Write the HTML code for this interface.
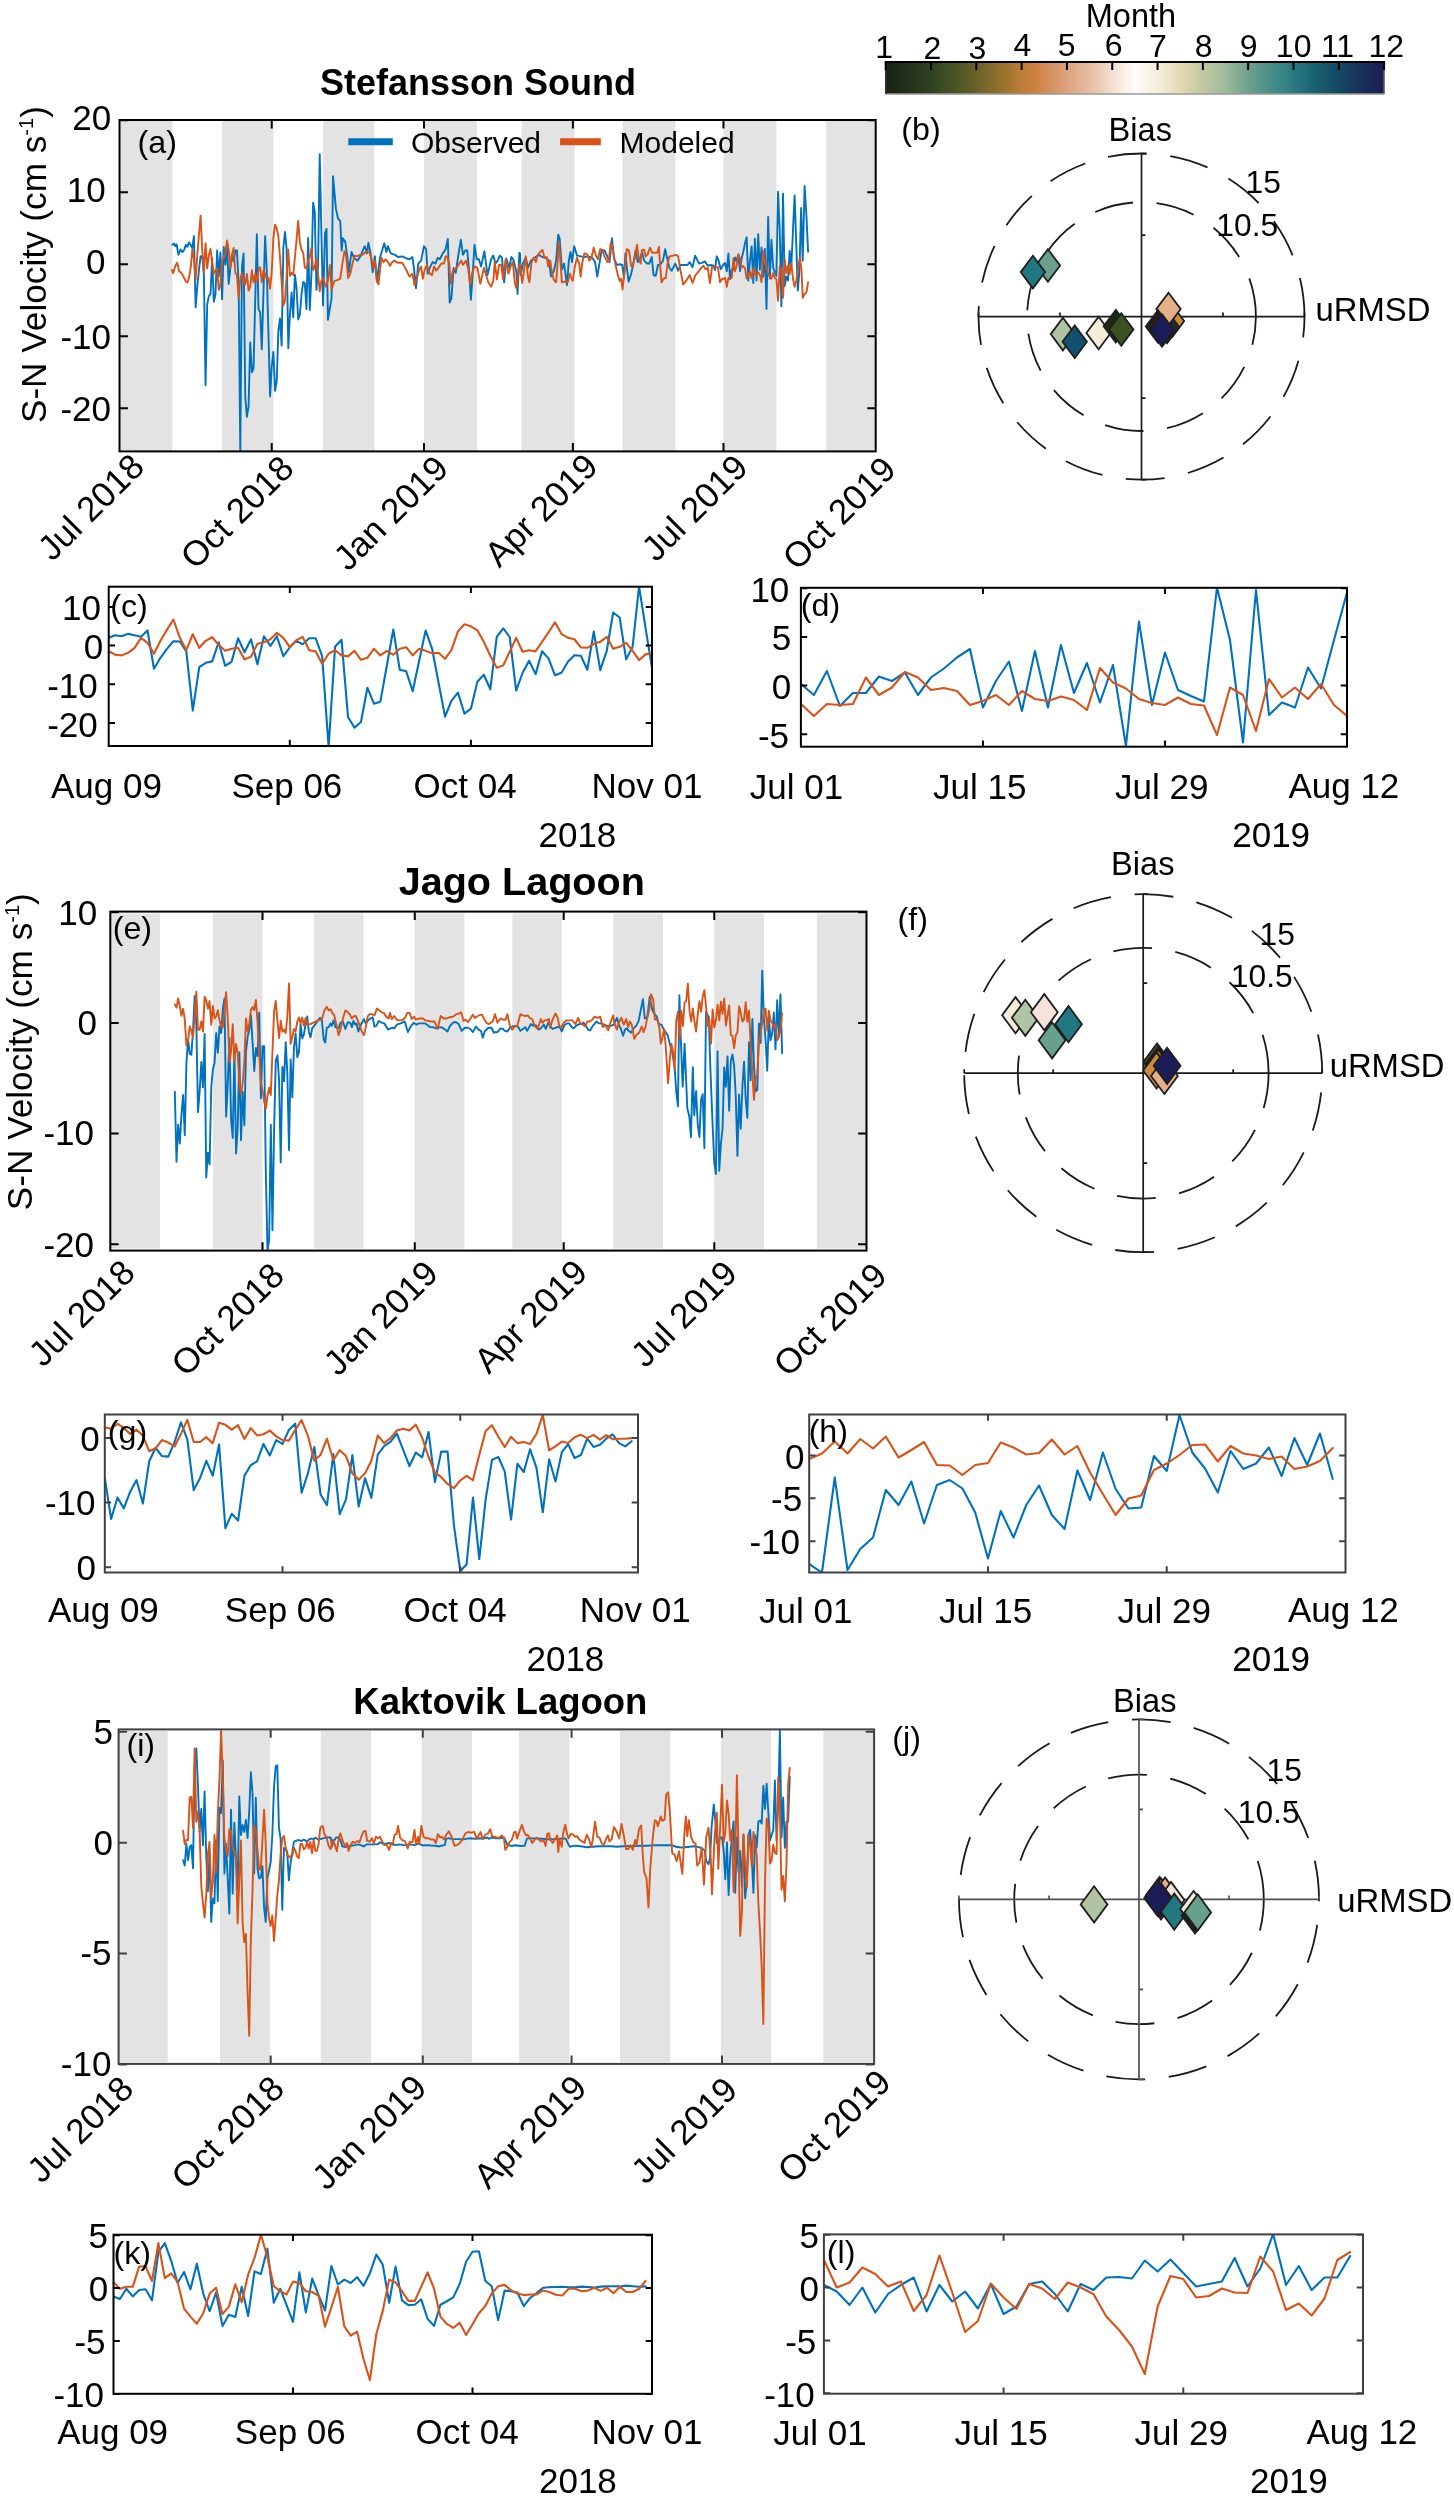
<!DOCTYPE html>
<html><head><meta charset="utf-8"><style>
html,body{margin:0;padding:0;background:#fff;}
svg{display:block;font-family:"Liberation Sans", sans-serif;will-change:transform;}
text{font-family:"Liberation Sans", sans-serif;fill:#000;}
</style></head><body>
<svg width="1454" height="2500" viewBox="0 0 1454 2500">
<defs><clipPath id="clipA"><rect x="119.5" y="120" width="756.2" height="331.4"/></clipPath><clipPath id="clipE"><rect x="110.3" y="911.6" width="756.2" height="339"/></clipPath><clipPath id="clipI"><rect x="118.6" y="1729.4" width="755.5" height="334.5"/></clipPath><clipPath id="clipC"><rect x="108.7" y="586.7" width="543.3" height="159.3"/></clipPath><clipPath id="clipD"><rect x="800.9" y="587.8" width="546.1" height="158.9"/></clipPath><clipPath id="clipG"><rect x="104.8" y="1414.5" width="533.2" height="158"/></clipPath><clipPath id="clipH"><rect x="809.2" y="1414.5" width="536.3" height="158"/></clipPath><clipPath id="clipK"><rect x="113.5" y="2234.7" width="538.5" height="159.1"/></clipPath><clipPath id="clipL"><rect x="823.9" y="2234.4" width="539.1" height="159.3"/></clipPath><linearGradient id="cmap" x1="0" x2="1" y1="0" y2="0"><stop offset="0" stop-color="#1a2216"/><stop offset="0.045" stop-color="#24301a"/><stop offset="0.09" stop-color="#2e4220"/><stop offset="0.14" stop-color="#4a5526"/><stop offset="0.18" stop-color="#686028"/><stop offset="0.24" stop-color="#9c742e"/><stop offset="0.272" stop-color="#bc7c38"/><stop offset="0.3" stop-color="#cd823f"/><stop offset="0.36" stop-color="#dca07c"/><stop offset="0.42" stop-color="#e8c4aa"/><stop offset="0.455" stop-color="#f4e0d4"/><stop offset="0.5" stop-color="#fffcf8"/><stop offset="0.545" stop-color="#f6efdc"/><stop offset="0.59" stop-color="#e2dab4"/><stop offset="0.636" stop-color="#c2c8a2"/><stop offset="0.68" stop-color="#a0bc9c"/><stop offset="0.727" stop-color="#6ea08e"/><stop offset="0.77" stop-color="#4a9088"/><stop offset="0.818" stop-color="#2a7a82"/><stop offset="0.86" stop-color="#1a6272"/><stop offset="0.909" stop-color="#134863"/><stop offset="0.955" stop-color="#19305a"/><stop offset="1.0" stop-color="#1c1c52"/></linearGradient></defs>
<rect width="1454" height="2500" fill="#fff"/>
<rect x="119.5" y="120" width="52.95" height="331.4" fill="#e3e3e3"/>
<rect x="222.09" y="120" width="51.3" height="331.4" fill="#e3e3e3"/>
<rect x="323.03" y="120" width="51.3" height="331.4" fill="#e3e3e3"/>
<rect x="423.97" y="120" width="52.95" height="331.4" fill="#e3e3e3"/>
<rect x="521.59" y="120" width="52.95" height="331.4" fill="#e3e3e3"/>
<rect x="622.53" y="120" width="52.95" height="331.4" fill="#e3e3e3"/>
<rect x="723.47" y="120" width="52.95" height="331.4" fill="#e3e3e3"/>
<rect x="826.06" y="120" width="49.64" height="331.4" fill="#e3e3e3"/>
<g clip-path="url(#clipA)">
<polyline points="172.5,244.8 173.9,243.5 175.2,246.2 176.5,244.2 178.5,254.7 180.5,249.5 182.4,252.1 184.4,249.5 185.69,244.99 187.34,246.85 189,242.4 190.65,244.99 192.31,247.96 193.96,236.09 195.62,307.31 197.27,286.91 198.93,270.22 200.58,256.12 202.24,256.49 203.89,275.04 205.54,385.2 207.2,304.34 208.85,296.18 210.51,293.58 212.16,257.97 213.82,301.74 215.47,294.33 217.13,250.56 218.78,276.52 220.44,252.41 222.09,299.15 223.75,246.85 225.4,264.65 227.06,246.85 228.71,283.94 230.37,267.62 232.02,255.38 233.67,261.68 235.33,250.56 236.98,250.56 238.64,283.94 240.29,453.08 241.95,266.51 243.6,253.52 245.26,397.07 246.91,416.73 248.57,406.34 250.22,342.55 251.88,372.22 253.53,368.51 255.19,301.74 256.84,234.24 258.5,309.16 260.15,312.13 261.8,349.22 263.46,292.47 265.11,236.09 266.77,270.22 268.42,333.27 270.08,396.33 271.73,366.66 273.39,351.82 275.04,390.77 276.7,381.49 278.35,331.42 280.01,318.44 281.66,345.51 283.32,247.96 284.97,232.01 286.63,248.7 288.28,348.11 289.93,314.73 291.59,292.47 293.24,317.32 294.9,274.67 296.55,288.02 298.21,319.55 299.86,314.73 301.52,294.33 303.17,282.08 304.83,283.2 306.48,309.16 308.14,237.94 309.79,309.9 311.45,273.92 313.1,202.71 314.76,211.98 316.41,289.87 318.06,266.51 319.72,154.12 321.37,231.27 323.03,305.45 325.05,233.22 326.5,228.89 327.94,319.87 331.55,298.21 333,176.17 335.89,208.67 338.05,218.78 340.22,220.94 341.66,250.55 342.82,238.27 345.27,241.88 347.44,257.77 348.89,272.21 351.48,251.99 353.94,257.77 357.55,260.66 360.44,256.33 363.33,249.1 364.77,246.22 366.94,253.44 368.38,242.61 370.55,253.44 372.72,272.21 374.88,256.33 377.05,280.88 379.94,257.77 382.1,250.55 384.27,243.33 386.44,251.99 387.88,246.22 390.77,253.44 395.1,254.88 397.99,257.05 402.32,256.33 406.66,258.49 409.54,259.21 412.43,257.05 413.88,267.88 416.04,288.1 418.21,263.55 421.1,260.66 423.99,246.22 426.15,249.1 427.6,273.66 429.76,267.88 432.65,262.1 435.54,263.55 437.71,257.77 439.87,259.21 442.76,253.44 445.65,249.1 447.82,238.99 449.69,302.54 451.43,298.21 453.59,267.88 455.76,272.93 457.93,257.77 460.81,239.72 462.98,254.88 465.15,250.55 467.31,250.55 469.48,276.55 470.92,299.65 472.8,272.21 474.53,244.77 476.7,259.21 478.87,259.21 481.03,266.44 484.36,251.27 487.53,275.1 491.14,259.21 493.31,255.6 495.48,263.55 497.64,260.66 499.81,255.6 501.98,257.77 504.14,282.32 506.31,258.49 509.2,267.88 511.36,257.05 513.53,259.94 516.42,272.21 517.57,293.88 519.31,252.72 520,253.44 520.72,275.1 522.89,263.55 525.78,257.77 527.94,267.88 530.83,260.66 534.44,257.77 538.78,254.88 542.39,257.05 546,257.77 548.89,260.66 551.05,276.55 553.94,270.77 556.11,260.66 558.27,234.66 559.72,238.99 561.88,269.32 564.05,263.55 566.94,285.21 568.82,260.66 570.55,251.99 571.99,262.1 574.16,246.22 577.05,255.6 580.66,256.33 584.27,257.05 587.88,256.33 592.21,257.77 595.1,262.1 597.27,276.55 599.43,263.55 601.6,250.55 604.49,250.55 606.66,254.88 609.54,262.1 612,238.27 613.88,257.77 616.76,264.99 619.65,264.27 622.25,264.99 623.99,277.99 625.43,253.44 626.87,267.88 628.61,281.6 631.21,273.66 633.37,263.55 635.54,250.55 637.71,262.1 639.87,259.21 642.04,251.99 644.21,260.66 647.09,263.55 649.26,263.55 651.72,257.05 653.59,275.1 655.76,275.82 657.93,264.99 660.09,264.99 662.98,260.66 665.15,249.1 667.31,259.21 669.48,267.88 671.65,270.77 675.26,263.55 678.15,270.77 680.31,264.99 684.64,264.99 687.53,264.99 689.7,262.1 692.59,267.16 695.04,255.6 696.92,259.21 699.09,263.55 701.98,262.82 704.86,261.38 707.75,265.71 710.64,264.99 713.53,265.71 714.97,270.05 716.71,256.33 718.58,260.66 720.75,269.32 723.64,264.27 725.12,263.07 726.78,271.2 728.43,253.46 730.09,279.32 731.74,269.72 733.4,269.72 735.05,257.53 736.7,260.85 738.36,254.57 740.01,271.2 741.67,258.26 743.32,251.61 744.98,243.49 746.63,237.2 748.29,280.43 749.94,260.85 751.6,246.44 753.25,283.02 754.91,238.68 756.56,280.43 758.22,234.25 759.87,269.72 761.53,247.55 763.18,276.74 764.83,249.03 766.49,308.88 768.14,216.88 769.8,278.59 771.45,239.79 773.11,267.5 774.76,271.94 776.42,276 778.07,191.76 779.73,230.55 781.38,306.3 783.04,193.61 784.69,285.98 786.35,276.74 788,280.43 789.66,250.87 791.31,266.39 792.96,230.55 794.62,195.45 797.8,290.5 799.5,270 801.1,208 802.7,260.8 804.6,186 806.4,215 808.1,251.7" fill="none" stroke="#0072bd" stroke-width="1.9" stroke-linejoin="round" stroke-linecap="round"/>
<polyline points="171.9,269.9 173.2,273.2 175.2,266 177.2,262.7 179.1,271.3 181.1,272.6 183.1,275.9 185.1,279.8 185.69,281.34 187.34,282.46 189,277.63 190.65,268.36 192.31,249.81 193.96,259.09 195.62,279.49 197.27,255.38 198.93,234.98 200.58,215.69 202.24,249.81 203.89,272.81 205.54,243.14 207.2,268.36 208.85,255.38 210.51,248.7 212.16,262.8 213.82,273.92 215.47,270.22 217.13,268.36 218.78,289.87 220.44,285.05 222.09,260.94 223.75,257.97 225.4,252.41 227.06,240.54 228.71,249.81 230.37,267.25 232.02,254.27 233.67,247.96 235.33,272.81 236.98,275.04 238.64,298.03 240.29,279.49 241.95,272.81 243.6,282.46 245.26,284.31 246.91,273.92 248.57,290.62 250.22,286.91 251.88,270.22 253.53,282.46 255.19,273.92 256.84,281.34 258.5,270.22 260.15,267.25 261.8,282.46 263.46,270.22 265.11,273.92 266.77,278.75 268.42,277.63 270.08,288.76 271.73,272.07 273.39,237.94 275.04,224.59 276.7,228.3 278.35,236.09 280.01,257.23 281.66,283.2 283.32,305.45 284.97,301 286.63,275.78 288.28,249.81 289.93,275.78 291.59,272.81 293.24,275.04 294.9,257.23 296.55,239.8 298.21,220.88 299.86,242.4 301.52,249.81 303.17,252.41 304.83,267.62 306.48,268.36 308.14,260.94 309.79,257.23 311.45,247.96 313.1,270.22 314.76,266.51 316.41,259.09 318.06,273.92 319.72,291.36 321.37,280.6 323.03,278.75 323.61,279.43 325.78,286.66 327.94,280.88 329.82,264.99 331.55,289.54 334.44,280.88 337.33,280.16 340.22,278.71 342.39,263.55 344.55,251.27 346,254.88 348.16,277.99 350.33,273.66 352.5,263.55 354.66,255.6 357.55,256.33 359.72,254.88 362.61,254.88 364.77,252.72 366.94,251.27 369.1,251.99 371.27,257.77 373.44,267.88 374.88,260.66 376.61,280.88 378.49,284.49 381.38,257.77 383.55,262.1 385.71,259.21 387.88,262.1 390.05,265.71 392.21,262.1 394.38,260.66 397.99,262.82 402.32,262.82 405.21,267.88 407.38,272.21 409.54,276.55 412.43,273.66 414.6,285.21 416.76,277.99 418.93,270.77 421.1,266.44 422.83,278.71 424.71,269.32 426.87,264.99 429.76,273.66 431.93,275.1 434.1,266.44 436.26,270.77 438.43,267.88 441.32,263.55 443.92,263.55 445.65,256.33 447.09,256.33 449.26,263.55 450.7,283.77 452.87,270.77 456.48,267.88 459.37,263.55 461.25,260.66 462.98,264.99 465.87,260.66 468.04,267.88 470.2,284.49 472.37,272.21 474.53,266.44 477.42,267.88 480.31,283.77 483.92,267.88 486.09,275.1 488.26,282.32 491.14,286.66 493.31,280.88 494.75,262.1 496.92,279.43 499.09,264.99 501.25,264.99 503.13,279.43 505.59,259.21 508.47,273.66 510.64,266.44 512.81,262.1 514.97,283.77 516.42,288.1 518.58,267.88 520,263.55 522.17,283.04 523.61,273.66 525.78,256.33 527.94,276.55 529.39,282.32 531.55,262.1 533.72,257.77 535.89,262.1 537.33,255.6 540.22,251.99 542.39,249.83 544.55,257.77 546.72,257.05 548.16,266.44 550.33,260.66 551.77,272.21 553.94,280.16 556.11,282.32 557.84,259.21 558.99,241.88 560.44,262.1 561.88,282.32 564.77,281.6 567.66,282.32 569.83,273.66 571.27,277.99 572.72,280.88 574.88,266.44 577.05,257.77 579.21,263.55 580.66,276.55 582.1,263.55 584.27,253.44 587.16,254.16 589.32,260.66 591.49,257.77 593.66,247.66 595.82,255.6 597.99,259.21 600.16,249.1 602.32,249.83 604.49,256.33 607.38,262.1 608.82,260.66 610.7,242.61 612.43,246.22 614.6,260.66 617.49,273.66 619.65,280.88 621.1,278.71 622.54,289.54 624.71,269.32 626.87,249.1 629.04,250.55 631.21,266.44 632.65,265.71 634.82,257.77 636.98,244.77 638.43,256.33 640.6,263.55 642.04,249.83 644.21,249.83 645.65,256.33 647.82,254.16 649.98,247.66 652.15,252.72 655.04,252.72 657.2,252.72 658.94,246.94 660.09,264.99 661.54,282.32 663.7,278.71 665.87,277.99 667.31,264.99 669.48,256.33 673.09,255.6 675.98,254.88 678.15,256.33 680.31,269.32 683.2,284.49 686.09,280.88 689.7,275.1 692.59,283.04 695.48,275.1 699.09,270.77 701.25,267.88 703.42,265.71 705.59,269.32 707.75,267.88 709.92,283.04 712.09,266.44 714.97,267.16 717.86,267.16 720.03,282.32 722.2,278.71 724.36,278.71 725.12,277.85 726.78,286.71 728.43,277.85 730.09,278.59 731.74,277.85 733.4,258.26 735.05,271.2 736.7,265.65 738.36,254.2 740.01,258.26 741.67,267.5 743.32,266.02 744.98,268.24 746.63,278.59 748.29,275.63 749.94,271.2 751.6,278.59 753.25,268.24 754.91,274.15 756.56,275.63 758.22,272.3 759.87,274.89 761.53,282.28 763.18,251.24 764.83,261.96 766.49,266.39 768.14,274.15 769.8,277.11 771.45,278.59 773.11,273.04 774.76,277.85 776.42,278.96 778.07,300.75 779.73,265.65 781.38,271.2 783.04,297.8 784.69,259.37 786.35,273.04 788,265.65 789.66,274.15 791.31,263.07 792.96,278.59 794.62,286.71 796.5,280 799.9,257.5 801.5,270 802.7,297.9 804.8,293.8 806.5,292.1 808.1,282.2" fill="none" stroke="#d95319" stroke-width="1.9" stroke-linejoin="round" stroke-linecap="round"/>
</g>
<path d="M119.5,120.3h8.4M875.7,120.3h-8.4M119.5,192.28h8.4M875.7,192.28h-8.4M119.5,264.25h8.4M875.7,264.25h-8.4M119.5,336.23h8.4M875.7,336.23h-8.4M119.5,408.2h8.4M875.7,408.2h-8.4M271.73,451.4v-8.4M271.73,120v8.4M423.97,451.4v-8.4M423.97,120v8.4M572.89,451.4v-8.4M572.89,120v8.4M723.47,451.4v-8.4M723.47,120v8.4" stroke="#000" stroke-width="2" fill="none"/>
<rect x="119.5" y="120" width="756.2" height="331.4" fill="none" stroke="#000" stroke-width="2"/>
<line x1="348.3" y1="141.7" x2="392.8" y2="141.7" stroke="#0072bd" stroke-width="7"/>
<line x1="560.1" y1="141.7" x2="600.8" y2="141.7" stroke="#d95319" stroke-width="7"/>
<text transform="translate(45.5,264.6) rotate(-90)" font-size="35.2" text-anchor="middle">S-N Velocity (cm s<tspan font-size="20" dy="-12.5">-1</tspan><tspan dy="12.5">)</tspan></text>
<g clip-path="url(#clipC)">
<polyline points="108.7,637.84 115.17,635.25 121.64,636.24 128.1,633.85 134.57,635.25 141.04,636.84 147.51,630.46 153.97,668.75 160.44,657.78 166.91,648.81 173.38,641.23 179.85,641.43 186.31,651.4 192.78,710.63 199.25,667.16 205.72,662.77 212.19,661.37 218.65,642.23 225.12,665.76 231.59,661.77 238.06,638.24 244.52,652.2 250.99,639.23 257.46,664.36 263.93,636.24 270.4,645.82 276.86,636.24 283.33,656.19 289.8,647.41 296.27,640.83 302.74,644.22 309.2,638.24 315.67,638.24 322.14,656.19 328.61,747.13 335.07,646.81 341.54,639.83 348.01,717.02 354.48,727.59 360.95,722 367.41,687.7 373.88,703.65 380.35,701.66 386.82,665.76 393.29,629.46 399.75,669.75 406.22,671.34 412.69,691.29 419.16,660.77 425.62,630.46 432.09,648.81 438.56,682.71 445.03,716.62 451.5,700.66 457.96,692.68 464.43,713.63 470.9,708.64 477.37,681.72 483.84,674.73 490.3,689.29 496.77,636.84 503.24,628.26 509.71,637.24 516.17,690.69 522.64,672.74 529.11,660.77 535.58,674.14 542.05,651.2 548.51,658.38 554.98,675.33 561.45,672.74 567.92,661.77 574.39,655.19 580.85,655.79 587.32,669.75 593.79,631.46 600.26,670.15 606.73,650.8 613.19,612.51 619.66,617.5 626.13,659.38 632.6,646.81 639.06,586.38 645.53,627.87 652,667.75" fill="none" stroke="#0072bd" stroke-width="2.1" stroke-linejoin="round" stroke-linecap="round"/>
<polyline points="108.7,651.2 115.17,654.79 121.64,655.39 128.1,652.8 134.57,647.81 141.04,637.84 147.51,642.82 153.97,653.79 160.44,640.83 166.91,629.86 173.38,619.49 179.85,637.84 186.31,650.2 192.78,634.25 199.25,647.81 205.72,640.83 212.19,637.24 218.65,644.82 225.12,650.8 231.59,648.81 238.06,647.81 244.52,659.38 250.99,656.79 257.46,643.82 263.93,642.23 270.4,639.23 276.86,632.85 283.33,637.84 289.8,647.21 296.27,640.23 302.74,636.84 309.2,650.2 315.67,651.4 322.14,663.77 328.61,653.79 335.07,650.2 341.54,655.39 348.01,656.39 354.48,650.8 360.95,659.78 367.41,657.78 373.88,648.81 380.35,655.39 386.82,650.8 393.29,654.79 399.75,648.81 406.22,647.21 412.69,655.39 419.16,648.81 425.62,650.8 432.09,653.39 438.56,652.8 445.03,658.78 451.5,649.8 457.96,631.46 464.43,624.28 470.9,626.27 477.37,630.46 483.84,641.83 490.3,655.79 496.77,667.75 503.24,665.36 509.71,651.8 516.17,637.84 522.64,651.8 529.11,650.2 535.58,651.4 542.05,641.83 548.51,632.45 554.98,622.28 561.45,633.85 567.92,637.84 574.39,639.23 580.85,647.41 587.32,647.81 593.79,643.82 600.26,641.83 606.73,636.84 613.19,648.81 619.66,646.81 626.13,642.82 632.6,650.8 639.06,660.18 645.53,654.39 652,653.39" fill="none" stroke="#d95319" stroke-width="2.1" stroke-linejoin="round" stroke-linecap="round"/>
</g>
<path d="M108.7,606.9h6.3M652,606.9h-6.3M108.7,645.6h6.3M652,645.6h-6.3M108.7,684.3h6.3M652,684.3h-6.3M108.7,723h6.3M652,723h-6.3M289.8,746v-6.3M289.8,586.7v6.3M470.9,746v-6.3M470.9,586.7v6.3" stroke="#000" stroke-width="2" fill="none"/>
<rect x="108.7" y="586.7" width="543.3" height="159.3" fill="none" stroke="#000" stroke-width="2"/>
<g clip-path="url(#clipD)">
<polyline points="800.9,684 813.9,695 826.9,671 839.91,706 852.91,693 865.91,693 878.91,676.5 891.92,681 904.92,672.5 917.92,695 930.92,677.5 943.93,668.5 956.93,657.5 969.93,649 982.93,707.5 995.94,681 1008.94,661.5 1021.94,711 1034.94,651 1047.95,707.5 1060.95,645 1073.95,693 1086.95,663 1099.95,702.5 1112.96,665 1125.96,746 1138.96,621.5 1151.96,705 1164.97,652.5 1177.97,690 1190.97,696 1203.97,701.5 1216.98,587.5 1229.98,640 1242.98,742.5 1255.98,590 1268.99,715 1281.99,702.5 1294.99,707.5 1307.99,667.5 1321,688.5 1334,640 1347,592.5" fill="none" stroke="#0072bd" stroke-width="2.1" stroke-linejoin="round" stroke-linecap="round"/>
<polyline points="800.9,704 813.9,716 826.9,704 839.91,705 852.91,704 865.91,677.5 878.91,695 891.92,687.5 904.92,672 917.92,677.5 930.92,690 943.93,688 956.93,691 969.93,705 982.93,701 995.94,695 1008.94,705 1021.94,691 1034.94,699 1047.95,701 1060.95,696.5 1073.95,700 1086.95,710 1099.95,668 1112.96,682.5 1125.96,688.5 1138.96,699 1151.96,703 1164.97,705 1177.97,697.5 1190.97,704 1203.97,705.5 1216.98,735 1229.98,687.5 1242.98,695 1255.98,731 1268.99,679 1281.99,697.5 1294.99,687.5 1307.99,699 1321,684 1334,705 1347,716" fill="none" stroke="#d95319" stroke-width="2.1" stroke-linejoin="round" stroke-linecap="round"/>
</g>
<path d="M800.9,588.2h6.3M1347,588.2h-6.3M800.9,636.9h6.3M1347,636.9h-6.3M800.9,685.6h6.3M1347,685.6h-6.3M800.9,734.3h6.3M1347,734.3h-6.3M982.93,746.7v-6.3M982.93,587.8v6.3M1164.97,746.7v-6.3M1164.97,587.8v6.3" stroke="#000" stroke-width="2" fill="none"/>
<rect x="800.9" y="587.8" width="546.1" height="158.9" fill="none" stroke="#000" stroke-width="2"/>
<rect x="885.7" y="62" width="498.4" height="32" fill="url(#cmap)"/>
<line x1="884.7" y1="62" x2="1385.1" y2="62" stroke="#000" stroke-width="2"/>
<line x1="885.7" y1="94" x2="1384.1" y2="94" stroke="#999" stroke-width="1.5"/>
<line x1="885.7" y1="62" x2="885.7" y2="94" stroke="#333" stroke-width="1.5"/>
<line x1="1384.1" y1="62" x2="1384.1" y2="94" stroke="#666" stroke-width="1.5"/>
<path d="M885.7,62v8M931.01,62v8M976.32,62v8M1021.63,62v8M1066.94,62v8M1112.25,62v8M1157.55,62v8M1202.86,62v8M1248.17,62v8M1293.48,62v8M1338.79,62v8M1384.1,62v8" stroke="#000" stroke-width="2"/>
<path d="M1304.5,316.6 A163,163 0 1 0 978.5,316.6 A163,163 0 1 0 1304.5,316.6" fill="none" stroke="#1a1a1a" stroke-width="1.8" stroke-dasharray="39 23.7"/>
<path d="M1255.9,316.6 A114.4,114.4 0 1 0 1027.1,316.6 A114.4,114.4 0 1 0 1255.9,316.6" fill="none" stroke="#1a1a1a" stroke-width="1.8" stroke-dasharray="39 23.7"/>
<path d="M978.5,316.6H1304.5M1141.5,153.6V479.6M1060,316.6v-4M1141.5,235.1h4M978.5,316.6v-4M1141.5,153.6h5M1223,316.6v-4M1141.5,398.1h4M1304.5,316.6v-4M1141.5,479.6h5" stroke="#1a1a1a" stroke-width="1.7" fill="none"/>
<polygon points="1047.9,249.2 1060.1,265.5 1047.9,281.8 1035.7,265.5" fill="#68a08e" stroke="#1e1e1e" stroke-width="1.8"/>
<polygon points="1032.9,255.8 1045.1,272.1 1032.9,288.4 1020.7,272.1" fill="#217880" stroke="#1e1e1e" stroke-width="1.8"/>
<polygon points="1062.9,317.8 1075.1,334.1 1062.9,350.4 1050.7,334.1" fill="#b0c4a4" stroke="#1e1e1e" stroke-width="1.8"/>
<polygon points="1074.7,325.4 1086.9,341.7 1074.7,358 1062.5,341.7" fill="#125070" stroke="#1e1e1e" stroke-width="1.8"/>
<polygon points="1098.6,316.7 1110.8,333 1098.6,349.3 1086.4,333" fill="#f2ecd8" stroke="#1e1e1e" stroke-width="1.8"/>
<polygon points="1115.8,309.9 1128,326.2 1115.8,342.5 1103.6,326.2" fill="#1c2814" stroke="#1e1e1e" stroke-width="1.8"/>
<polygon points="1121.3,313.2 1133.5,329.5 1121.3,345.8 1109.1,329.5" fill="#3c5020" stroke="#1e1e1e" stroke-width="1.8"/>
<polygon points="1172,304.7 1184.2,321 1172,337.3 1159.8,321" fill="#cc8a3c" stroke="#1e1e1e" stroke-width="1.8"/>
<polygon points="1167,310.7 1179.2,327 1167,343.3 1154.8,327" fill="#2a2a2a" stroke="#1e1e1e" stroke-width="1.8"/>
<polygon points="1168.5,292.7 1180.7,309 1168.5,325.3 1156.3,309" fill="#e4b08a" stroke="#1e1e1e" stroke-width="1.8"/>
<polygon points="1158,310.2 1170.2,326.5 1158,342.8 1145.8,326.5" fill="#231f20" stroke="#1e1e1e" stroke-width="1.8"/>
<polygon points="1162,314.2 1174.2,330.5 1162,346.8 1149.8,330.5" fill="#1c1c56" stroke="#1e1e1e" stroke-width="1.8"/>
<path d="M1322.2,1073.2 A179,179 0 1 0 964.2,1073.2 A179,179 0 1 0 1322.2,1073.2" fill="none" stroke="#1a1a1a" stroke-width="1.8" stroke-dasharray="39 23.7"/>
<path d="M1268.6,1073.2 A125.4,125.4 0 1 0 1017.8,1073.2 A125.4,125.4 0 1 0 1268.6,1073.2" fill="none" stroke="#1a1a1a" stroke-width="1.8" stroke-dasharray="39 23.7"/>
<path d="M964.2,1073.2H1322.2M1143.2,894.2V1252.2M1053.2,1073.2v-4M1143.2,983.2h4M964.2,1073.2v-4M1143.2,894.2h5M1233.2,1073.2v-4M1143.2,1163.2h4M1322.2,1073.2v-4M1143.2,1252.2h5" stroke="#1a1a1a" stroke-width="1.7" fill="none"/>
<polygon points="1015.5,997.1 1028.9,1015.2 1015.5,1033.3 1002.1,1015.2" fill="#f2ecd8" stroke="#1e1e1e" stroke-width="1.8"/>
<polygon points="1025.3,999.7 1038.7,1017.8 1025.3,1035.9 1011.9,1017.8" fill="#b0c4a4" stroke="#1e1e1e" stroke-width="1.8"/>
<polygon points="1044.3,994.1 1057.7,1012.2 1044.3,1030.3 1030.9,1012.2" fill="#f6e4da" stroke="#1e1e1e" stroke-width="1.8"/>
<polygon points="1068.5,1006.1 1081.9,1024.2 1068.5,1042.3 1055.1,1024.2" fill="#217880" stroke="#1e1e1e" stroke-width="1.8"/>
<polygon points="1052.1,1022.2 1065.5,1040.3 1052.1,1058.4 1038.7,1040.3" fill="#68a08e" stroke="#1e1e1e" stroke-width="1.8"/>
<polygon points="1157,1043.4 1170.4,1061.5 1157,1079.6 1143.6,1061.5" fill="#3c5020" stroke="#1e1e1e" stroke-width="1.8"/>
<polygon points="1158.3,1046.9 1171.7,1065 1158.3,1083.1 1144.9,1065" fill="#231f20" stroke="#1e1e1e" stroke-width="1.8"/>
<polygon points="1158.3,1049.4 1171.7,1067.5 1158.3,1085.6 1144.9,1067.5" fill="#8a7a34" stroke="#1e1e1e" stroke-width="1.8"/>
<polygon points="1156.5,1052.4 1169.9,1070.5 1156.5,1088.6 1143.1,1070.5" fill="#cc8a3c" stroke="#1e1e1e" stroke-width="1.8"/>
<polygon points="1164.4,1057.9 1177.8,1076 1164.4,1094.1 1151,1076" fill="#e4b08a" stroke="#1e1e1e" stroke-width="1.8"/>
<polygon points="1167.1,1047.7 1180.5,1065.8 1167.1,1083.9 1153.7,1065.8" fill="#1c1c56" stroke="#1e1e1e" stroke-width="1.8"/>
<path d="M1319,1899.4 A180,180 0 1 0 959,1899.4 A180,180 0 1 0 1319,1899.4" fill="none" stroke="#1a1a1a" stroke-width="1.8" stroke-dasharray="39 23.7"/>
<path d="M1263.8,1899.4 A124.8,124.8 0 1 0 1014.2,1899.4 A124.8,124.8 0 1 0 1263.8,1899.4" fill="none" stroke="#1a1a1a" stroke-width="1.8" stroke-dasharray="39 23.7"/>
<path d="M959,1899.4H1319M1139,1719.4V2079.4M1049,1899.4v-4M1139,1809.4h4M959,1899.4v-4M1139,1719.4h5M1229,1899.4v-4M1139,1989.4h4M1319,1899.4v-4M1139,2079.4h5" stroke="#505050" stroke-width="1.7" fill="none"/>
<polygon points="1094.1,1886.3 1107.5,1904.4 1094.1,1922.5 1080.7,1904.4" fill="#b0c4a4" stroke="#1e1e1e" stroke-width="1.8"/>
<polygon points="1159.5,1876.9 1172.9,1895 1159.5,1913.1 1146.1,1895" fill="#231f20" stroke="#1e1e1e" stroke-width="1.8"/>
<polygon points="1161,1878.4 1174.4,1896.5 1161,1914.6 1147.6,1896.5" fill="#cc8a3c" stroke="#1e1e1e" stroke-width="1.8"/>
<polygon points="1165,1877.4 1178.4,1895.5 1165,1913.6 1151.6,1895.5" fill="#e4b08a" stroke="#1e1e1e" stroke-width="1.8"/>
<polygon points="1171,1881.9 1184.4,1900 1171,1918.1 1157.6,1900" fill="#f6e4da" stroke="#1e1e1e" stroke-width="1.8"/>
<polygon points="1161,1883.4 1174.4,1901.5 1161,1919.6 1147.6,1901.5" fill="#231f20" stroke="#1e1e1e" stroke-width="1.8"/>
<polygon points="1157.6,1879.9 1171,1898 1157.6,1916.1 1144.2,1898" fill="#1c1c56" stroke="#1e1e1e" stroke-width="1.8"/>
<polygon points="1174.3,1893.6 1187.7,1911.7 1174.3,1929.8 1160.9,1911.7" fill="#217880" stroke="#1e1e1e" stroke-width="1.8"/>
<polygon points="1195,1897.4 1208.4,1915.5 1195,1933.6 1181.6,1915.5" fill="#231f20" stroke="#1e1e1e" stroke-width="1.8"/>
<polygon points="1193.6,1890.9 1207,1909 1193.6,1927.1 1180.2,1909" fill="#f2ecd8" stroke="#1e1e1e" stroke-width="1.8"/>
<polygon points="1197.7,1894.3 1211.1,1912.4 1197.7,1930.5 1184.3,1912.4" fill="#68a08e" stroke="#1e1e1e" stroke-width="1.8"/>
<rect x="110.3" y="913.6" width="49.64" height="335" fill="#e3e3e3"/>
<rect x="212.89" y="913.6" width="49.64" height="335" fill="#e3e3e3"/>
<rect x="313.83" y="913.6" width="49.64" height="335" fill="#e3e3e3"/>
<rect x="414.77" y="913.6" width="49.64" height="335" fill="#e3e3e3"/>
<rect x="512.39" y="913.6" width="49.64" height="335" fill="#e3e3e3"/>
<rect x="613.33" y="913.6" width="49.64" height="335" fill="#e3e3e3"/>
<rect x="714.27" y="913.6" width="49.64" height="335" fill="#e3e3e3"/>
<rect x="816.86" y="913.6" width="49.64" height="335" fill="#e3e3e3"/>
<g clip-path="url(#clipE)">
<polyline points="174.83,1091.7 176.49,1161.61 178.14,1124.68 179.8,1143.48 181.45,1114.79 183.11,1095 184.76,1135.23 186.42,1062.68 188.07,1039.6 189.73,1053.78 191.38,1054.77 193.04,1029.7 194.69,996.07 196.34,1025.09 198,1112.15 199.65,1091.7 201.31,1062.02 202.96,1087.41 204.62,1033.99 206.27,1177.44 207.93,1152.71 209.58,1164.25 211.24,1087.41 212.89,1069.28 214.55,1062.68 216.2,1033 217.86,1052.79 219.51,1026.41 221.17,1033 222.82,1009.26 224.47,998.37 226.13,1116.44 227.78,1083.46 229.44,1038.28 231.09,1119.73 232.75,1137.87 234.4,1050.48 236.06,1153.37 237.71,1127.98 239.37,1052.13 241.02,1140.18 242.68,1091.7 244.33,1125.34 245.99,1051.47 247.64,1036.63 249.3,1029.7 250.95,1015.19 252.6,1042.89 254.26,1070.93 255.91,1047.84 257.57,1056.09 259.22,1012.56 260.88,1098.3 262.53,1046.19 264.19,1046.19 265.84,1172.5 267.5,1250.66 269.15,1239.44 270.81,1124.68 272.46,1230.21 274.12,1127.98 275.77,1060.37 277.43,1055.43 279.08,1080.16 280.73,1162.6 282.39,1066.97 284.04,1081.15 285.7,1042.24 287.35,1073.56 289.01,1150.07 290.66,1059.38 292.32,1097.31 293.97,1047.18 295.63,1033.33 297.28,1057.08 298.94,1052.13 300.59,1024.1 302.25,1038.28 303.9,1034.65 305.56,1024.1 307.21,1016.51 308.86,1031.68 310.52,1037.29 312.17,1028.38 320,1017.85 321.86,1020.33 323.71,1039.52 325.2,1042.61 326.81,1027.76 328.67,1027.14 330.52,1023.42 331.76,1025.9 333.62,1020.33 335.47,1027.14 338.57,1028.38 340.43,1022.81 342.9,1021.57 345.38,1028.99 347.85,1022.19 350.33,1022.81 351.94,1027.14 353.42,1020.95 355.28,1024.66 356.52,1023.42 358.38,1031.47 360.85,1024.66 363.95,1019.09 365.8,1023.42 367.66,1020.95 369.52,1019.09 372.61,1017.23 374.47,1026.52 376.33,1025.9 378.8,1020.95 381.9,1022.81 384.37,1023.42 388.09,1029.61 390.56,1028.38 392.42,1027.76 394.28,1028.38 396.75,1024.66 400.47,1023.42 404.8,1021.57 407.89,1032.09 410.37,1027.14 413.46,1022.81 416.56,1024.66 419.03,1023.42 425.22,1023.42 427.7,1025.28 430.18,1027.14 432.65,1027.14 435.75,1028.38 439.46,1027.14 442.56,1027.76 445.03,1029.61 447.51,1031.47 449.98,1025.9 453.7,1022.19 456.17,1022.19 458.65,1024.04 461.74,1030.85 464.84,1027.76 467.93,1027.76 470.41,1028.99 472.88,1032.09 475.98,1026.52 478.46,1029.61 480.93,1030.85 482.79,1037.66 484.64,1031.47 488.36,1027.76 491.45,1027.76 493.93,1032.71 495,1032.09 497.48,1032.09 500.57,1028.38 503.05,1028.99 504.9,1030.85 507.38,1031.47 509.86,1027.76 512.33,1026.52 514.81,1025.9 517.9,1026.52 520.38,1030.85 522.85,1028.99 525.33,1027.14 527.19,1030.85 530.9,1024.04 533.38,1025.9 535.85,1025.28 538.95,1029.61 541.42,1027.76 543.9,1024.66 545.76,1028.99 548.23,1022.81 550.09,1025.9 552.56,1028.99 555.66,1027.76 559.37,1026.52 561.85,1031.47 564.32,1025.28 566.8,1023.42 569.28,1023.42 571.75,1027.14 573.61,1028.38 576.7,1025.28 579.18,1024.04 581.66,1024.04 583.51,1022.43 585.99,1025.9 588.46,1030.23 590.32,1030.23 592.8,1025.9 596.51,1021.57 598.99,1023.42 601.46,1023.42 603.94,1024.66 607.03,1025.9 610.75,1025.9 613.84,1024.66 616.94,1017.85 618.79,1024.66 620.65,1028.38 623.13,1035.8 624.98,1029.61 626.84,1028.38 628.7,1030.85 631.17,1032.71 633.65,1028.38 636.12,1025.9 638.6,1020.95 641.08,1008.57 642.93,999.28 644.79,1018.47 647.27,1017.23 649.74,996.81 652.1,1009.52 654.31,1013.92 656.51,1016.12 658.71,1023.82 661.46,1024.92 664.21,1030.43 667.51,1034.83 669.71,1043.63 672.46,1053.54 674.66,1067.84 676.31,1092.05 677.96,1106.35 679.39,995.21 680.72,1037.03 682.7,1086.55 684.57,1043.63 687.32,1108.56 689.3,1116.26 690.95,1137.17 692.82,1067.29 694.25,1115.16 696.12,1090.95 697.77,1125.06 699.42,1137.17 701.07,1099.75 702.72,1094.25 704.37,1148.17 706.02,1011.72 708.78,1017.22 710.43,1070.04 712.63,1125.06 714.27,1162.96 715.92,1173.94 717.58,1051.3 719.23,1170.71 720.89,1143.6 722.54,1128.75 724.2,1067.44 725.85,1086.8 727.5,1056.46 729.16,1110.68 730.81,1060.98 732.47,1054.53 734.12,1065.5 735.78,1096.48 737.43,1155.86 739.09,1094.54 740.74,1128.75 742.4,1086.8 744.05,1061.63 745.71,1099.71 747.36,1117.78 749.02,1042.26 750.67,1080.34 752.33,1019.03 753.98,1066.15 755.63,1091.32 757.29,1090.03 758.94,1023.55 760.6,1042.91 762.25,970.62 763.91,1019.03 765.56,1039.68 767.22,1070.66 768.87,1017.09 770.53,1040.33 772.18,1033.23 773.84,1012.57 775.49,1049.36 777.15,1000.31 778.8,1035.16 780.46,994.5 782.11,1053.24" fill="none" stroke="#0072bd" stroke-width="1.9" stroke-linejoin="round" stroke-linecap="round"/>
<polyline points="174.83,1004.31 176.49,1007.61 178.14,998.37 179.8,1005.96 181.45,1015.85 183.11,1008.6 184.76,1019.15 186.42,1045.53 188.07,1040.59 189.73,1026.41 191.38,1030.69 193.04,1037.29 194.69,1015.85 196.34,991.78 198,1029.7 199.65,1029.7 201.31,1021.46 202.96,1031.68 204.62,996.73 206.27,1000.35 207.93,1008.6 209.58,1001.01 211.24,1024.76 212.89,1005.96 214.55,1018.49 216.2,1016.51 217.86,1010.25 219.51,1020.14 221.17,1026.41 222.82,1027.4 224.47,1009.26 226.13,992.11 227.78,1019.15 229.44,1062.02 231.09,1051.47 232.75,1024.1 234.4,1061.03 236.06,1043.88 237.71,1053.78 239.37,1083.46 241.02,1094.34 242.68,1083.46 244.33,1062.02 245.99,1018.49 247.64,1031.68 249.3,1023.11 250.95,1009.92 252.6,1006.95 254.26,1009.92 255.91,1000.02 257.57,1022.45 259.22,1055.43 260.88,1081.81 262.53,1090.05 264.19,1101.6 265.84,1108.85 267.5,1095.66 269.15,1087.74 270.81,1095 272.46,1051.47 274.12,1010.91 275.77,1001.01 277.43,1020.8 279.08,1038.28 280.73,1020.8 282.39,1031.68 284.04,1029.7 285.7,1033 287.35,1015.85 289.01,983.53 290.66,1043.88 292.32,1037.29 293.97,1029.04 295.63,1031.35 297.28,1021.79 298.94,1017.5 300.59,1023.11 302.25,1017.5 303.9,1025.75 305.56,1018.16 307.21,1024.76 308.86,1024.1 310.52,1024.1 312.17,1023.11 320,1019.71 321.86,1019.71 324.33,1010.43 326.81,1006.71 328.67,1010.43 330.52,1009.19 332.38,1012.9 334.24,1015.38 336.71,1025.9 338.57,1035.18 340.43,1029.61 342.9,1018.47 345.38,1010.43 347.23,1011.66 349.71,1014.14 351.94,1018.47 354.04,1016 355.9,1016 358.38,1022.19 361.47,1030.85 363.95,1035.18 365.8,1027.14 367.66,1016.62 369.52,1014.14 371.99,1014.14 374.47,1015.38 376.94,1008.57 379.42,1010.43 381.9,1012.28 383.75,1012.9 386.23,1016.62 388.71,1018.47 389.94,1012.9 391.8,1019.09 394.28,1016 396.13,1019.09 397.99,1020.33 400.47,1020.33 402.94,1019.71 405.42,1017.23 407.27,1012.9 409.75,1012.9 411.61,1019.09 414.08,1016.62 415.94,1019.71 419.03,1018.47 422.75,1018.47 425.22,1020.33 428.32,1020.95 431.41,1021.57 434.51,1021.57 437.6,1028.99 440.7,1016 443.79,1018.47 446.89,1018.47 449.98,1017.23 453.08,1016.62 456.17,1014.14 459.27,1013.52 461.12,1012.28 463.6,1020.95 465.46,1019.71 467.93,1022.19 470.41,1018.47 472.88,1014.76 474.74,1017.85 477.84,1016 480.31,1014.76 482.17,1014.76 484.03,1019.09 486.5,1022.81 488.98,1024.04 492.69,1021.57 495,1014.14 497.48,1022.81 500.57,1018.47 503.05,1019.71 505.52,1019.71 507.38,1014.14 509.86,1025.9 512.33,1029.61 514.81,1026.52 517.28,1025.9 520.38,1014.14 522.85,1015.38 525.33,1016 527.81,1015.38 530.28,1018.47 532.14,1019.09 534.61,1025.9 537.71,1028.99 540.8,1019.09 542.66,1022.81 544.52,1020.33 546.99,1020.33 548.85,1019.09 550.09,1027.76 552.56,1019.71 555.41,1013.52 557.52,1017.23 559.37,1025.9 561.23,1027.76 563.71,1022.81 566.8,1020.33 569.28,1020.33 572.37,1020.33 575.47,1024.04 578.19,1017.85 580.42,1023.42 582.89,1024.66 585.37,1026.52 587.23,1021.57 589.7,1021.57 592.18,1019.71 594.65,1016.62 597.75,1017.85 600.22,1016.62 602.7,1027.14 604.56,1024.66 606.41,1027.14 608.27,1030.23 610.13,1023.42 613.22,1015.38 614.46,1023.42 616.94,1029.61 618.79,1022.81 621.27,1017.85 623.74,1024.66 626.22,1019.09 628.08,1027.14 629.93,1021.57 631.79,1024.66 634.27,1038.9 636.74,1034.57 639.22,1032.71 641.69,1026.52 643.55,1032.09 645.41,1027.14 647.27,1017.85 649.12,1010.43 651,994.11 653.2,999.61 654.86,1019.42 657.61,1019.97 659.26,1027.13 660.91,1043.63 662.56,1037.03 664.21,1029.33 665.86,1048.03 668.06,1083.25 669.71,1061.24 671.36,1043.63 673.01,1051.33 674.66,1068.94 676.31,1020.52 677.96,1011.72 679.61,1039.23 681.27,1010.62 682.92,1026.02 684.57,1002.92 686.22,1000.72 687.87,983.66 689.52,1010.62 691.17,1021.62 692.82,1008.42 694.47,1021.62 696.12,1031.53 697.77,1013.92 699.42,1001.27 701.07,1011.72 702.72,996.31 704.37,990.26 706.02,1006.22 707.68,1026.02 709.33,1019.42 710.98,1043.63 712.63,1009.52 714.27,1027.42 715.92,1020.32 717.58,1004.83 719.23,1020.32 720.89,1001.6 722.54,1013.86 724.2,998.37 725.85,1025.48 727.5,1015.8 729.16,1005.47 730.81,1035.16 732.47,1035.81 734.12,1048.07 735.78,1035.16 737.43,1032.58 739.09,1006.12 740.74,1012.57 742.4,1021.61 744.05,1019.67 745.71,1002.25 747.36,1021.61 749.02,1010.64 750.67,1044.85 752.33,1072.6 753.98,1099.71 755.63,1078.41 757.29,1074.54 758.94,1041.62 760.6,1033.23 762.25,1022.25 763.91,1009.35 765.56,1008.7 767.22,1030.65 768.87,1010.64 770.53,1020.32 772.18,1022.9 773.84,1027.42 775.49,1024.19 777.15,1040.33 778.8,1037.1 780.46,1030 782.11,1013.22" fill="none" stroke="#d95319" stroke-width="1.9" stroke-linejoin="round" stroke-linecap="round"/>
</g>
<path d="M110.3,912.27h8.4M866.5,912.27h-8.4M110.3,1022.9h8.4M866.5,1022.9h-8.4M110.3,1133.53h8.4M866.5,1133.53h-8.4M110.3,1244.16h8.4M866.5,1244.16h-8.4M262.53,1250.6v-8.4M262.53,911.6v8.4M414.77,1250.6v-8.4M414.77,911.6v8.4M563.69,1250.6v-8.4M563.69,911.6v8.4M714.27,1250.6v-8.4M714.27,911.6v8.4" stroke="#000" stroke-width="2" fill="none"/>
<rect x="110.3" y="911.6" width="756.2" height="339" fill="none" stroke="#000" stroke-width="2"/>
<text transform="translate(31.7,1051.7) rotate(-90)" font-size="35.2" text-anchor="middle">S-N Velocity (cm s<tspan font-size="20" dy="-12.5">-1</tspan><tspan dy="12.5">)</tspan></text>
<g clip-path="url(#clipG)">
<polyline points="104.8,1478.18 111.15,1519 117.5,1497.43 123.84,1508.41 130.19,1491.66 136.54,1480.1 142.89,1503.59 149.23,1461.23 155.58,1447.75 161.93,1456.03 168.28,1456.61 174.62,1441.97 180.97,1422.33 187.32,1439.28 193.67,1490.11 200.01,1478.18 206.36,1460.84 212.71,1475.67 219.06,1444.48 225.4,1528.24 231.75,1513.8 238.1,1520.54 244.45,1475.67 250.8,1465.08 257.14,1461.23 263.49,1443.9 269.84,1455.45 276.19,1440.05 282.53,1443.9 288.88,1430.03 295.23,1423.68 301.58,1492.62 307.92,1473.36 314.27,1446.98 320.62,1494.54 326.97,1505.13 333.31,1454.1 339.66,1514.19 346.01,1499.36 352.36,1455.07 358.7,1506.48 365.05,1478.18 371.4,1497.82 377.75,1454.68 384.1,1446.02 390.44,1441.97 396.79,1433.5 403.14,1449.68 409.49,1466.04 415.83,1452.56 422.18,1457.38 428.53,1431.96 434.88,1482.03 441.22,1451.6 447.57,1451.6 453.92,1525.35 460.27,1570.99 466.61,1564.45 472.96,1497.43 479.31,1559.05 485.66,1499.36 492,1459.88 498.35,1456.99 504.7,1471.44 511.05,1519.58 517.4,1463.73 523.74,1472.01 530.09,1449.29 536.44,1467.58 542.79,1512.26 549.13,1459.3 555.48,1481.45 561.83,1452.18 568.18,1444.09 574.52,1457.96 580.87,1455.07 587.22,1438.7 593.57,1446.98 599.91,1444.86 606.26,1438.7 612.61,1434.27 618.96,1443.13 625.3,1446.4 631.65,1441.2" fill="none" stroke="#0072bd" stroke-width="2.1" stroke-linejoin="round" stroke-linecap="round"/>
<polyline points="104.8,1427.15 111.15,1429.07 117.5,1423.68 123.84,1428.11 130.19,1433.89 136.54,1429.65 142.89,1435.81 149.23,1451.22 155.58,1448.33 161.93,1440.05 168.28,1442.55 174.62,1446.4 180.97,1433.89 187.32,1419.83 193.67,1441.97 200.01,1441.97 206.36,1437.16 212.71,1443.13 219.06,1422.72 225.4,1424.83 231.75,1429.65 238.1,1425.22 244.45,1439.08 250.8,1428.11 257.14,1435.43 263.49,1434.27 269.84,1430.61 276.19,1436.39 282.53,1440.05 288.88,1440.62 295.23,1430.03 301.58,1420.02 307.92,1435.81 314.27,1460.84 320.62,1454.68 326.97,1438.7 333.31,1460.27 339.66,1450.25 346.01,1456.03 352.36,1473.36 358.7,1479.72 365.05,1473.36 371.4,1460.84 377.75,1435.43 384.1,1443.13 390.44,1438.12 396.79,1430.42 403.14,1428.69 409.49,1430.42 415.83,1424.64 422.18,1437.74 428.53,1456.99 434.88,1472.4 441.22,1477.21 447.57,1483.95 453.92,1488.19 460.27,1480.49 466.61,1475.86 472.96,1480.1 479.31,1454.68 485.66,1431 492,1425.22 498.35,1436.77 504.7,1446.98 511.05,1436.77 517.4,1443.13 523.74,1441.97 530.09,1443.9 536.44,1433.89 542.79,1415.01 549.13,1450.25 555.48,1446.4 561.83,1441.59 568.18,1442.94 574.52,1437.35 580.87,1434.85 587.22,1438.12 593.57,1434.85 599.91,1439.66 606.26,1435.23 612.61,1439.08 618.96,1438.7 625.3,1438.7 631.65,1438.12" fill="none" stroke="#d95319" stroke-width="2.1" stroke-linejoin="round" stroke-linecap="round"/>
</g>
<path d="M104.8,1438h6.3M638,1438h-6.3M104.8,1502.6h6.3M638,1502.6h-6.3M104.8,1567.2h6.3M638,1567.2h-6.3M282.53,1572.5v-6.3M282.53,1414.5v6.3M460.27,1572.5v-6.3M460.27,1414.5v6.3" stroke="#404040" stroke-width="2" fill="none"/>
<rect x="104.8" y="1414.5" width="533.2" height="158" fill="none" stroke="#404040" stroke-width="2"/>
<g clip-path="url(#clipH)">
<polyline points="809.2,1564 821.97,1572.5 834.74,1477.5 847.51,1570 860.28,1549 873.05,1537.5 885.81,1490 898.58,1505 911.35,1481.5 924.12,1523.5 936.89,1485 949.66,1480 962.43,1488.5 975.2,1512.5 987.97,1558.5 1000.74,1511 1013.5,1537.5 1026.27,1505 1039.04,1485.5 1051.81,1515 1064.58,1529 1077.35,1470.5 1090.12,1500 1102.89,1452.5 1115.66,1489 1128.43,1508.5 1141.2,1507.5 1153.96,1456 1166.73,1471 1179.5,1415 1192.27,1452.5 1205.04,1468.5 1217.81,1492.5 1230.58,1451 1243.35,1469 1256.12,1463.5 1268.89,1447.5 1281.65,1476 1294.42,1438 1307.19,1465 1319.96,1433.5 1332.73,1479" fill="none" stroke="#0072bd" stroke-width="2.1" stroke-linejoin="round" stroke-linecap="round"/>
<polyline points="809.2,1459 821.97,1453.5 834.74,1441.5 847.51,1453.5 860.28,1439 873.05,1448.5 885.81,1436.5 898.58,1457.5 911.35,1450 924.12,1442 936.89,1465 949.66,1465.5 962.43,1475 975.2,1465 987.97,1463 1000.74,1442.5 1013.5,1447.5 1026.27,1454.5 1039.04,1453 1051.81,1439.5 1064.58,1454.5 1077.35,1446 1090.12,1472.5 1102.89,1494 1115.66,1515 1128.43,1498.5 1141.2,1495.5 1153.96,1470 1166.73,1463.5 1179.5,1455 1192.27,1445 1205.04,1444.5 1217.81,1461.5 1230.58,1446 1243.35,1453.5 1256.12,1455.5 1268.89,1459 1281.65,1456.5 1294.42,1469 1307.19,1466.5 1319.96,1461 1332.73,1448" fill="none" stroke="#d95319" stroke-width="2.1" stroke-linejoin="round" stroke-linecap="round"/>
</g>
<path d="M809.2,1455.5h6.3M1345.5,1455.5h-6.3M809.2,1498.35h6.3M1345.5,1498.35h-6.3M809.2,1541.2h6.3M1345.5,1541.2h-6.3M987.97,1572.5v-6.3M987.97,1414.5v6.3M1166.73,1572.5v-6.3M1166.73,1414.5v6.3" stroke="#404040" stroke-width="2" fill="none"/>
<rect x="809.2" y="1414.5" width="536.3" height="158" fill="none" stroke="#404040" stroke-width="2"/>
<rect x="118.6" y="1730.9" width="49.1" height="331.5" fill="#e3e3e3"/>
<rect x="219.94" y="1730.9" width="50.26" height="331.5" fill="#e3e3e3"/>
<rect x="320.78" y="1730.9" width="50.26" height="331.5" fill="#e3e3e3"/>
<rect x="421.63" y="1730.9" width="50.26" height="331.5" fill="#e3e3e3"/>
<rect x="519.16" y="1730.9" width="50.26" height="331.5" fill="#e3e3e3"/>
<rect x="620.01" y="1730.9" width="50.26" height="331.5" fill="#e3e3e3"/>
<rect x="720.85" y="1730.9" width="50.26" height="331.5" fill="#e3e3e3"/>
<rect x="823.35" y="1730.9" width="50.26" height="331.5" fill="#e3e3e3"/>
<g clip-path="url(#clipI)">
<polyline points="183.07,1860.17 184.73,1865.41 186.38,1844.03 188.03,1860.17 189.69,1846.85 191.34,1845.24 192.99,1868.24 194.65,1767.36 196.3,1748.39 197.95,1785.52 199.61,1831.92 201.26,1808.92 202.91,1845.24 204.56,1791.57 206.22,1854.11 207.87,1891.24 209.52,1852.1 211.18,1921.9 212.83,1898.5 214.48,1903.34 216.14,1839.99 217.79,1901.33 219.44,1807.71 221.1,1812.96 222.75,1760.09 224.4,1873.48 226.06,1844.03 227.71,1878.33 229.36,1913.43 231.02,1809.73 232.67,1893.66 234.32,1822.64 235.98,1858.15 237.63,1889.62 239.28,1796.41 240.93,1835.15 242.59,1825.06 244.24,1831.92 245.89,1819.82 247.55,1837.97 249.2,1811.74 250.85,1772.2 252.51,1793.59 254.16,1873.48 255.81,1797.62 257.47,1868.24 259.12,1878.33 260.77,1877.52 262.43,1866.22 264.08,1907.38 265.73,1921.9 267.39,1877.52 269.04,1870.25 270.69,1862.18 272.35,1833.94 274,1787.53 275.65,1766.55 277.3,1765.34 278.96,1827.89 280.61,1838.78 282.26,1909.8 283.92,1848.06 285.57,1849.27 287.22,1852.1 288.88,1880.34 290.53,1862.99 292.18,1853.31 293.84,1842.01 295.49,1840.8 297.14,1840.39 298.8,1839.99 300.45,1840.8 302.1,1840.8 303.76,1839.59 305.41,1840.39 307.06,1841.61 308.71,1839.59 310.37,1838.78 312.02,1838.78 313.67,1839.18 315.33,1837.57 316.98,1838.78 318.63,1839.99 320.29,1839.18 323.76,1838.2 326.51,1837.51 330.63,1837.51 332.01,1846.45 333.38,1841.64 336.13,1837.51 338.89,1837.51 340.95,1841.64 342.32,1846.45 345.08,1847.14 347.83,1846.45 351.27,1845.76 355.39,1845.08 358.14,1844.39 360.89,1845.08 363.65,1846.45 366.4,1844.39 370.52,1844.39 374.65,1844.39 377.4,1844.39 380.15,1842.32 382.9,1843.7 385.65,1843.7 389.09,1843.01 392.53,1843.7 395.28,1845.08 399.41,1844.39 403.54,1845.08 406.29,1845.08 410.41,1844.39 414.54,1845.08 418.67,1843.7 422.79,1845.49 426.92,1845.08 431.05,1845.49 435.17,1845.76 439.3,1846.45 442.05,1845.49 444.8,1845.08 446.18,1838.89 448.93,1838.2 453.05,1839.16 458.56,1839.16 462.68,1839.57 466.81,1838.61 470.94,1838.2 475.06,1838.89 479.19,1838.2 483.31,1838.61 487.44,1837.51 488.82,1838.89 491.57,1837.51 495.69,1838.2 499.82,1838.2 503.95,1837.51 507.27,1844.47 511.05,1845.98 515.59,1845.23 520.13,1845.98 524.67,1845.68 526.94,1838.42 530.72,1838.42 535.26,1838.42 541.31,1838.72 547.37,1839.18 553.42,1839.18 559.47,1838.72 565.52,1838.42 568.55,1844.47 570.06,1846.74 574.6,1845.68 580.65,1846.29 586.71,1847.19 592.76,1846.74 598.81,1846.29 604.86,1846.29 610.92,1846.29 616.97,1846.74 623.02,1846.29 629.07,1845.98 635.13,1845.98 641.18,1845.68 647.23,1845.68 653.28,1845.23 659.33,1845.23 665.39,1845.23 671.44,1845.23 675.98,1846.74 680.52,1847.5 685.06,1847.19 689.6,1846.74 694.14,1846.29 698.68,1847.19 701.7,1848.25 704.73,1850.52 706.24,1861.12 708.51,1864.14 710.02,1858.09 711.54,1827.83 713.81,1804.37 715.32,1820.26 716.83,1842.96 719.86,1838.42 722.01,1837.24 723.66,1850.89 725.31,1879.23 726.97,1842.49 728.62,1894.98 730.27,1856.14 731.93,1837.24 733.58,1821.5 735.23,1892.88 736.89,1837.24 738.54,1871.88 740.19,1850.89 741.85,1886.58 743.5,1835.14 745.15,1898.13 746.81,1882.38 748.46,1835.14 750.11,1829.89 751.77,1856.14 753.42,1892.88 755.07,1835.14 756.72,1847.74 758.38,1821.5 760.03,1820.45 761.68,1823.6 763.34,1785.81 764.99,1808.9 766.64,1783.71 768.3,1812.05 769.95,1840.39 771.6,1835.14 773.26,1829.89 774.91,1780.56 776.56,1840.39 778.22,1802.6 779.87,1730.17 781.52,1837.24 783.18,1797.35 784.83,1847.74 786.48,1821.5 788.14,1821.5 789.79,1776.36" fill="none" stroke="#0072bd" stroke-width="1.9" stroke-linejoin="round" stroke-linecap="round"/>
<polyline points="183.07,1830.71 184.73,1844.03 186.38,1839.99 188.03,1839.99 189.69,1797.62 191.34,1796.81 192.99,1827.89 194.65,1748.39 196.3,1821.83 197.95,1811.74 199.61,1829.9 201.26,1885.59 202.91,1902.54 204.56,1917.47 206.22,1895.27 207.87,1854.11 209.52,1842.01 211.18,1897.29 212.83,1881.55 214.48,1834.75 216.14,1872.27 217.79,1814.57 219.44,1779.46 221.1,1731.04 222.75,1777.45 224.4,1838.78 226.06,1849.27 227.71,1856.13 229.36,1829.1 231.02,1831.92 232.67,1849.27 234.32,1850.89 235.98,1858.96 237.63,1923.52 239.28,1882.36 240.93,1840.39 242.59,1922.71 244.24,1942.08 245.89,1934.01 247.55,1991.31 249.2,2035.7 250.85,1938.85 252.51,1890.43 254.16,1825.06 255.81,1830.71 257.47,1849.27 259.12,1869.45 260.77,1869.45 262.43,1839.99 264.08,1809.73 265.73,1844.03 267.39,1902.54 269.04,1917.87 270.69,1925.94 272.35,1915.45 274,1940.87 275.65,1918.68 277.3,1895.27 278.96,1880.34 280.61,1854.11 282.26,1838.78 283.92,1835.96 285.57,1846.85 287.22,1854.11 288.88,1857.34 290.53,1856.13 292.18,1856.13 293.84,1847.66 295.49,1850.89 297.14,1856.54 298.8,1858.15 300.45,1844.03 302.1,1844.03 303.76,1849.27 305.41,1848.06 307.06,1842.01 308.71,1848.46 310.37,1842.01 312.02,1853.31 313.67,1839.99 315.33,1850.89 316.98,1850.89 318.63,1844.03 320.29,1827.89 322.65,1825.82 324.44,1834.07 326.51,1837.51 328.57,1845.76 330.63,1849.2 332.7,1839.57 334.76,1844.39 336.82,1851.27 338.89,1837.51 340.26,1833.38 343.01,1841.64 345.08,1846.45 347.14,1843.01 348.51,1850.99 350.58,1845.76 352.64,1841.64 354.7,1843.01 357.46,1840.95 359.52,1842.32 362.27,1834.07 363.65,1831.32 365.71,1831.32 367.08,1840.95 369.83,1841.64 371.9,1838.2 373.96,1843.01 376.02,1836.82 378.09,1838.2 380.15,1836.82 382.21,1841.64 384.28,1845.08 386.34,1844.39 389.09,1849.89 391.16,1843.01 392.53,1845.08 394.59,1834.76 396.66,1834.07 398.03,1825.82 400.1,1837.51 402.16,1840.26 404.91,1840.95 407.66,1848.51 409.72,1841.64 412.48,1842.32 414.54,1829.94 415.91,1844.39 417.98,1836.82 419.35,1843.7 421.42,1825.82 423.48,1836.82 425.54,1838.2 428.29,1838.2 431.05,1839.57 433.8,1839.57 435.86,1843.01 437.92,1834.07 439.99,1837.51 442.05,1836.82 444.11,1839.57 446.18,1834.76 448.93,1831.32 451.68,1836.82 454.43,1845.76 457.18,1845.08 459.93,1843.01 462.68,1838.89 465.43,1833.38 468.18,1832.01 470.94,1832.7 474.37,1832.01 476.44,1838.89 478.5,1835.45 480.56,1832.01 482.63,1838.89 485.38,1834.76 488.13,1833.38 490.19,1829.26 492.26,1836.13 495.01,1836.82 498.45,1838.2 501.88,1835.45 503.95,1838.2 505.32,1849.89 507.27,1846.74 509.54,1842.2 511.81,1839.93 514.08,1832.37 515.59,1831.61 517.1,1838.42 519.37,1831.61 521.95,1824.8 523.91,1831.61 526.18,1835.39 527.7,1834.64 529.97,1838.42 532.24,1842.96 534.51,1839.93 536.77,1837.66 539.04,1839.93 541.31,1841.44 543.58,1839.93 545.55,1845.98 547.37,1833.88 548.88,1833.12 550.39,1839.93 552.66,1842.96 554.93,1839.18 557.2,1835.39 558.26,1852.04 559.47,1839.18 561.74,1846.74 563.25,1832.37 565.22,1824.8 567.04,1833.88 568.55,1838.42 570.82,1833.88 573.09,1834.64 575.36,1836.91 576.87,1836.15 579.14,1839.18 582.17,1841.44 584.44,1842.96 586.71,1834.64 588.98,1839.18 591.25,1846.74 592.76,1839.93 595.03,1821.77 597.3,1836.91 599.57,1837.66 601.84,1843.71 604.11,1844.47 606.38,1838.42 607.89,1835.39 609.4,1841.44 611.67,1839.18 613.94,1827.07 616.21,1830.85 619.24,1838.42 621.51,1824.04 623.78,1835.39 626.05,1849.01 628.32,1849.01 630.59,1845.23 632.86,1849.77 635.13,1839.93 636.64,1845.23 638.91,1829.34 641.18,1825.56 642.69,1853.55 644.2,1872.46 646.47,1877.76 648.44,1907.42 650.26,1868.68 652.53,1839.93 654.8,1820.26 656.31,1821.02 657.82,1826.31 660.85,1816.48 662.36,1821.02 664.63,1819.51 666.14,1794.54 668.11,1792.27 669.93,1812.7 672.2,1853.55 674.47,1854.31 676.74,1861.12 679.01,1851.28 682.33,1873.98 684.3,1835.39 685.81,1816.48 687.33,1836.15 688.84,1820.26 691.11,1836.91 693.38,1842.2 695.65,1843.71 697.16,1865.65 699.43,1862.63 701.7,1847.5 703.97,1884.57 706.24,1836.91 708.51,1827.83 710.78,1858.09 711.99,1894.4 714.56,1836.91 716.83,1812.7 718.35,1868.68 722.01,1784.76 723.66,1842.49 725.31,1831.99 726.97,1800.5 728.62,1814.15 730.27,1840.39 731.93,1829.89 733.58,1891.83 735.23,1858.24 736.89,1775.31 738.54,1852.99 740.19,1935.91 741.85,1912.82 743.5,1834.09 745.15,1863.48 746.81,1887.63 748.46,1835.14 750.11,1844.59 751.77,1866.63 753.42,1831.99 755.07,1842.49 756.72,1856.14 758.38,1903.37 760.03,1931.72 761.68,1966.36 763.34,2024.09 764.99,1882.38 766.64,1818.35 768.3,1824.64 769.95,1863.48 771.6,1860.34 773.26,1844.59 774.91,1852.99 776.56,1854.04 778.22,1777.41 779.87,1808.9 781.52,1889.73 783.18,1876.08 784.83,1901.27 786.48,1865.58 788.14,1784.76 789.79,1767.96" fill="none" stroke="#d95319" stroke-width="1.9" stroke-linejoin="round" stroke-linecap="round"/>
</g>
<path d="M118.6,1731.85h8.4M874.1,1731.85h-8.4M118.6,1842.7h8.4M874.1,1842.7h-8.4M118.6,1953.55h8.4M874.1,1953.55h-8.4M118.6,2064.4h8.4M874.1,2064.4h-8.4M270.69,2063.9v-8.4M270.69,1729.4v8.4M422.78,2063.9v-8.4M422.78,1729.4v8.4M571.57,2063.9v-8.4M571.57,1729.4v8.4M722.01,2063.9v-8.4M722.01,1729.4v8.4" stroke="#404040" stroke-width="2" fill="none"/>
<rect x="118.6" y="1729.4" width="755.5" height="334.5" fill="none" stroke="#404040" stroke-width="2"/>
<g clip-path="url(#clipK)">
<polyline points="113.5,2296.44 119.91,2298.94 126.32,2288.73 132.73,2296.44 139.14,2290.08 145.55,2289.31 151.96,2300.29 158.38,2252.15 164.79,2243.09 171.2,2260.81 177.61,2282.96 184.02,2271.98 190.43,2289.31 196.84,2263.7 203.25,2293.55 209.66,2311.26 216.07,2292.58 222.48,2325.9 228.89,2314.73 235.3,2317.04 241.71,2286.81 248.12,2316.08 254.54,2271.4 260.95,2273.91 267.36,2248.68 273.77,2302.79 280.18,2288.73 286.59,2305.1 293,2321.85 299.41,2272.36 305.82,2312.42 312.23,2278.53 318.64,2295.47 325.05,2310.49 331.46,2266.01 337.88,2284.5 344.29,2279.68 350.7,2282.96 357.11,2277.18 363.52,2285.84 369.93,2273.33 376.34,2254.46 382.75,2264.66 389.16,2302.79 395.57,2266.59 401.98,2300.29 408.39,2305.1 414.8,2304.72 421.21,2299.32 427.62,2318.97 434.04,2325.9 440.45,2304.72 446.86,2301.25 453.27,2297.4 459.68,2283.92 466.09,2261.77 472.5,2251.76 478.91,2251.18 485.32,2281.03 491.73,2286.23 498.14,2320.12 504.55,2290.66 510.96,2291.24 517.38,2292.58 523.79,2306.06 530.2,2297.78 536.61,2293.16 543.02,2287.77 549.43,2287.19 555.84,2287 562.25,2286.81 568.66,2287.19 575.07,2287.19 581.48,2286.61 587.89,2287 594.3,2287.58 600.71,2286.61 607.12,2286.23 613.54,2286.23 619.95,2286.42 626.36,2285.65 632.77,2286.23 639.18,2286.81 645.59,2286.42" fill="none" stroke="#0072bd" stroke-width="2.1" stroke-linejoin="round" stroke-linecap="round"/>
<polyline points="113.5,2282.38 119.91,2288.73 126.32,2286.81 132.73,2286.81 139.14,2266.59 145.55,2266.2 151.96,2281.03 158.38,2243.09 164.79,2278.14 171.2,2273.33 177.61,2281.99 184.02,2308.57 190.43,2316.66 196.84,2323.78 203.25,2313.19 209.66,2293.55 216.07,2287.77 222.48,2314.15 228.89,2306.64 235.3,2284.3 241.71,2302.21 248.12,2274.68 254.54,2257.92 260.95,2234.81 267.36,2256.96 273.77,2286.23 280.18,2291.24 286.59,2294.51 293,2281.61 299.41,2282.96 305.82,2291.24 312.23,2292.01 318.64,2295.86 325.05,2326.67 331.46,2307.03 337.88,2287 344.29,2326.28 350.7,2335.53 357.11,2331.68 363.52,2359.02 369.93,2380.2 376.34,2333.99 382.75,2310.88 389.16,2279.68 395.57,2282.38 401.98,2291.24 408.39,2300.86 414.8,2300.86 421.21,2286.81 427.62,2272.36 434.04,2288.73 440.45,2316.66 446.86,2323.97 453.27,2327.82 459.68,2322.82 466.09,2334.95 472.5,2324.36 478.91,2313.19 485.32,2306.06 491.73,2293.55 498.14,2286.23 504.55,2284.88 510.96,2290.08 517.38,2293.55 523.79,2295.09 530.2,2294.51 536.61,2294.51 543.02,2290.47 549.43,2292.01 555.84,2294.7 562.25,2295.47 568.66,2288.73 575.07,2288.73 581.48,2291.24 587.89,2290.66 594.3,2287.77 600.71,2290.85 607.12,2287.77 613.54,2293.16 619.95,2286.81 626.36,2292.01 632.77,2292.01 639.18,2288.73 645.59,2281.03" fill="none" stroke="#d95319" stroke-width="2.1" stroke-linejoin="round" stroke-linecap="round"/>
</g>
<path d="M113.5,2235.2h6.3M652,2235.2h-6.3M113.5,2288.1h6.3M652,2288.1h-6.3M113.5,2341h6.3M652,2341h-6.3M113.5,2393.9h6.3M652,2393.9h-6.3M293,2393.8v-6.3M293,2234.7v6.3M472.5,2393.8v-6.3M472.5,2234.7v6.3" stroke="#000" stroke-width="2" fill="none"/>
<rect x="113.5" y="2234.7" width="538.5" height="159.1" fill="none" stroke="#000" stroke-width="2"/>
<g clip-path="url(#clipL)">
<polyline points="823.9,2285 836.74,2291.5 849.57,2305 862.41,2287.5 875.24,2312.5 888.08,2294 900.91,2285 913.75,2277.5 926.59,2311.5 939.42,2285 952.26,2301.5 965.09,2291.5 977.93,2308.5 990.76,2284 1003.6,2314 1016.44,2306.5 1029.27,2284 1042.11,2281.5 1054.94,2294 1067.78,2311.5 1080.61,2284 1093.45,2290 1106.29,2277.5 1119.12,2277 1131.96,2278.5 1144.79,2260.5 1157.63,2271.5 1170.46,2259.5 1183.3,2273 1196.14,2286.5 1208.97,2284 1221.81,2281.5 1234.64,2258 1247.48,2286.5 1260.31,2268.5 1273.15,2234 1285.99,2285 1298.82,2266 1311.66,2290 1324.49,2277.5 1337.33,2277.5 1350.16,2256" fill="none" stroke="#0072bd" stroke-width="2.1" stroke-linejoin="round" stroke-linecap="round"/>
<polyline points="823.9,2260 836.74,2287.5 849.57,2282.5 862.41,2267.5 875.24,2274 888.08,2286.5 900.91,2281.5 913.75,2311 926.59,2295 939.42,2255.5 952.26,2292.5 965.09,2332 977.93,2321 990.76,2283.5 1003.6,2297.5 1016.44,2309 1029.27,2284 1042.11,2288.5 1054.94,2299 1067.78,2282.5 1080.61,2287.5 1093.45,2294 1106.29,2316.5 1119.12,2330 1131.96,2346.5 1144.79,2374 1157.63,2306.5 1170.46,2276 1183.3,2279 1196.14,2297.5 1208.97,2296 1221.81,2288.5 1234.64,2292.5 1247.48,2293 1260.31,2256.5 1273.15,2271.5 1285.99,2310 1298.82,2303.5 1311.66,2315.5 1324.49,2298.5 1337.33,2260 1350.16,2252" fill="none" stroke="#d95319" stroke-width="2.1" stroke-linejoin="round" stroke-linecap="round"/>
</g>
<path d="M823.9,2234.8h6.3M1363,2234.8h-6.3M823.9,2287.6h6.3M1363,2287.6h-6.3M823.9,2340.4h6.3M1363,2340.4h-6.3M823.9,2393.2h6.3M1363,2393.2h-6.3M1003.6,2393.7v-6.3M1003.6,2234.4v6.3M1183.3,2393.7v-6.3M1183.3,2234.4v6.3" stroke="#404040" stroke-width="2" fill="none"/>
<rect x="823.9" y="2234.4" width="539.1" height="159.3" fill="none" stroke="#404040" stroke-width="2"/>
<text x="319.88" y="94.58" font-size="36" font-weight="bold">Stefansson Sound</text>
<text x="72.35" y="129.9" font-size="35">20</text>
<text x="66.72" y="202.3" font-size="35">10</text>
<text x="86.05" y="274.3" font-size="35">0</text>
<text x="60.47" y="348.7" font-size="35">-10</text>
<text x="60.47" y="420.5" font-size="35">-20</text>
<text x="137.61" y="153.11" font-size="32.2">(a)</text>
<text x="410.95" y="152.8" font-size="30">Observed</text>
<text x="619.55" y="152.8" font-size="30">Modeled</text>
<text x="875.31" y="58.28" font-size="32">1</text>
<text x="923.59" y="58.6" font-size="32">2</text>
<text x="968.45" y="58.6" font-size="32">3</text>
<text x="1013.5" y="56.4" font-size="32">4</text>
<text x="1057.79" y="56.08" font-size="32">5</text>
<text x="1104.69" y="56.4" font-size="32">6</text>
<text x="1149.04" y="57.1" font-size="32">7</text>
<text x="1194.75" y="57.1" font-size="32">8</text>
<text x="1239.79" y="57.1" font-size="32">9</text>
<text x="1275.85" y="57.1" font-size="32">10</text>
<text x="1320.93" y="56.78" font-size="32">11</text>
<text x="1368.56" y="57.1" font-size="32">12</text>
<text x="1085.76" y="26.83" font-size="32.5">Month</text>
<text x="901.31" y="139.81" font-size="32.2">(b)</text>
<text x="1108.61" y="141.3" font-size="32.6">Bias</text>
<text x="1245.62" y="193.34" font-size="31.8">15</text>
<text x="1216.36" y="235.66" font-size="31.8">10.5</text>
<text x="1315.59" y="321.36" font-size="32.8">uRMSD</text>
<text x="61.97" y="619.8" font-size="35">10</text>
<text x="83.65" y="659" font-size="35">0</text>
<text x="47.22" y="697.8" font-size="35">-10</text>
<text x="47.22" y="737" font-size="35">-20</text>
<text x="110.27" y="616.71" font-size="32.2">(c)</text>
<text x="51" y="797.7" font-size="35">Aug 09</text>
<text x="231.4" y="797.7" font-size="35">Sep 06</text>
<text x="413.52" y="797.7" font-size="35">Oct 04</text>
<text x="591.5" y="797.7" font-size="35">Nov 01</text>
<text x="538.48" y="847.4" font-size="35">2018</text>
<text x="750.42" y="601.8" font-size="35">10</text>
<text x="771.85" y="649.95" font-size="35">5</text>
<text x="771.85" y="699" font-size="35">0</text>
<text x="757.88" y="747.75" font-size="35">-5</text>
<text x="800.81" y="616.31" font-size="32.2">(d)</text>
<text x="749.8" y="798.75" font-size="35">Jul 01</text>
<text x="933.12" y="798.75" font-size="35">Jul 15</text>
<text x="1115.05" y="798.75" font-size="35">Jul 29</text>
<text x="1288.4" y="797.7" font-size="35">Aug 12</text>
<text x="1232.22" y="847.4" font-size="35">2019</text>
<text x="398.64" y="895.22" font-size="39.6" font-weight="bold">Jago Lagoon</text>
<text x="58.33" y="924.5" font-size="35">10</text>
<text x="77.5" y="1034.8" font-size="35">0</text>
<text x="43.47" y="1145" font-size="35">-10</text>
<text x="43.47" y="1256.8" font-size="35">-20</text>
<text x="112.71" y="938.51" font-size="32.2">(e)</text>
<text x="897.62" y="929.91" font-size="32.2">(f)</text>
<text x="1111.06" y="875.4" font-size="32.6">Bias</text>
<text x="1259.62" y="944.64" font-size="31.8">15</text>
<text x="1230.86" y="986.66" font-size="31.8">10.5</text>
<text x="1329.69" y="1076.86" font-size="32.8">uRMSD</text>
<text x="80.35" y="1450.9" font-size="35">0</text>
<text x="44.97" y="1515.3" font-size="35">-10</text>
<text x="76.45" y="1580.1" font-size="35">0</text>
<text x="107.81" y="1442.91" font-size="32.2">(g)</text>
<text x="47.9" y="1621.9" font-size="35">Aug 09</text>
<text x="224.85" y="1621.9" font-size="35">Sep 06</text>
<text x="403.52" y="1621.9" font-size="35">Oct 04</text>
<text x="579.75" y="1621.9" font-size="35">Nov 01</text>
<text x="526.48" y="1671.4" font-size="35">2018</text>
<text x="785.05" y="1468.7" font-size="35">0</text>
<text x="771.08" y="1511.25" font-size="35">-5</text>
<text x="749.47" y="1553.7" font-size="35">-10</text>
<text x="808.66" y="1442.11" font-size="32.2">(h)</text>
<text x="759.05" y="1622.95" font-size="35">Jul 01</text>
<text x="938.88" y="1622.95" font-size="35">Jul 15</text>
<text x="1117.55" y="1622.95" font-size="35">Jul 29</text>
<text x="1287.9" y="1621.9" font-size="35">Aug 12</text>
<text x="1232.22" y="1671.4" font-size="35">2019</text>
<text x="353.32" y="1714.05" font-size="36.5" font-weight="bold">Kaktovik Lagoon</text>
<text x="93.45" y="1743.65" font-size="35">5</text>
<text x="93.4" y="1854.5" font-size="35">0</text>
<text x="80.42" y="1965.15" font-size="35">-5</text>
<text x="60.78" y="2075.8" font-size="35">-10</text>
<text x="126.47" y="1755.81" font-size="32.2">(i)</text>
<text x="892.32" y="1749.31" font-size="32.2">(j)</text>
<text x="1113.06" y="1712.1" font-size="32.6">Bias</text>
<text x="1266.56" y="1781.04" font-size="31.8">15</text>
<text x="1237.76" y="1822.56" font-size="31.8">10.5</text>
<text x="1337.29" y="1912.26" font-size="32.8">uRMSD</text>
<text x="88.55" y="2247.55" font-size="35">5</text>
<text x="88.8" y="2301.1" font-size="35">0</text>
<text x="74.38" y="2353.95" font-size="35">-5</text>
<text x="53.38" y="2406.7" font-size="35">-10</text>
<text x="113.57" y="2263.81" font-size="32.2">(k)</text>
<text x="57.15" y="2444.4" font-size="35">Aug 09</text>
<text x="234.85" y="2444.4" font-size="35">Sep 06</text>
<text x="415.52" y="2444.4" font-size="35">Oct 04</text>
<text x="591.5" y="2444.4" font-size="35">Nov 01</text>
<text x="538.98" y="2492.9" font-size="35">2018</text>
<text x="799.4" y="2248.25" font-size="35">5</text>
<text x="799.4" y="2301" font-size="35">0</text>
<text x="785.17" y="2353.85" font-size="35">-5</text>
<text x="764.22" y="2406.6" font-size="35">-10</text>
<text x="826.87" y="2262.81" font-size="32.2">(l)</text>
<text x="773.3" y="2445.45" font-size="35">Jul 01</text>
<text x="954.38" y="2445.45" font-size="35">Jul 15</text>
<text x="1134.55" y="2445.45" font-size="35">Jul 29</text>
<text x="1306.4" y="2444.4" font-size="35">Aug 12</text>
<text x="1249.97" y="2492.9" font-size="35">2019</text>
<text x="146.2" y="468.7" font-size="35" text-anchor="end" transform="rotate(-45 146.2 468.7)">Jul 2018</text>
<text x="295.8" y="470.4" font-size="35" text-anchor="end" transform="rotate(-45 295.8 470.4)">Oct 2018</text>
<text x="450.2" y="470.4" font-size="35" text-anchor="end" transform="rotate(-45 450.2 470.4)">Jan 2019</text>
<text x="599.8" y="468.4" font-size="35" text-anchor="end" transform="rotate(-45 599.8 468.4)">Apr 2019</text>
<text x="749.8" y="469.4" font-size="35" text-anchor="end" transform="rotate(-45 749.8 469.4)">Jul 2019</text>
<text x="897.8" y="471.4" font-size="35" text-anchor="end" transform="rotate(-45 897.8 471.4)">Oct 2019</text>
<text x="136.9" y="1274.8" font-size="35" text-anchor="end" transform="rotate(-45 136.9 1274.8)">Jul 2018</text>
<text x="286.4" y="1277.6" font-size="35" text-anchor="end" transform="rotate(-45 286.4 1277.6)">Oct 2018</text>
<text x="440.1" y="1275.4" font-size="35" text-anchor="end" transform="rotate(-45 440.1 1275.4)">Jan 2019</text>
<text x="589.2" y="1274.5" font-size="35" text-anchor="end" transform="rotate(-45 589.2 1274.5)">Apr 2019</text>
<text x="739.1" y="1275.4" font-size="35" text-anchor="end" transform="rotate(-45 739.1 1275.4)">Jul 2019</text>
<text x="888.8" y="1277.7" font-size="35" text-anchor="end" transform="rotate(-45 888.8 1277.7)">Oct 2019</text>
<text x="135.4" y="2091" font-size="35" text-anchor="end" transform="rotate(-45 135.4 2091)">Jul 2018</text>
<text x="286.4" y="2090.7" font-size="35" text-anchor="end" transform="rotate(-45 286.4 2090.7)">Oct 2018</text>
<text x="428.6" y="2089.7" font-size="35" text-anchor="end" transform="rotate(-45 428.6 2089.7)">Jan 2019</text>
<text x="588.6" y="2090.1" font-size="35" text-anchor="end" transform="rotate(-45 588.6 2090.1)">Apr 2019</text>
<text x="739.3" y="2091.9" font-size="35" text-anchor="end" transform="rotate(-45 739.3 2091.9)">Jul 2019</text>
<text x="892.8" y="2084.4" font-size="35" text-anchor="end" transform="rotate(-45 892.8 2084.4)">Oct 2019</text>
</svg></body></html>
